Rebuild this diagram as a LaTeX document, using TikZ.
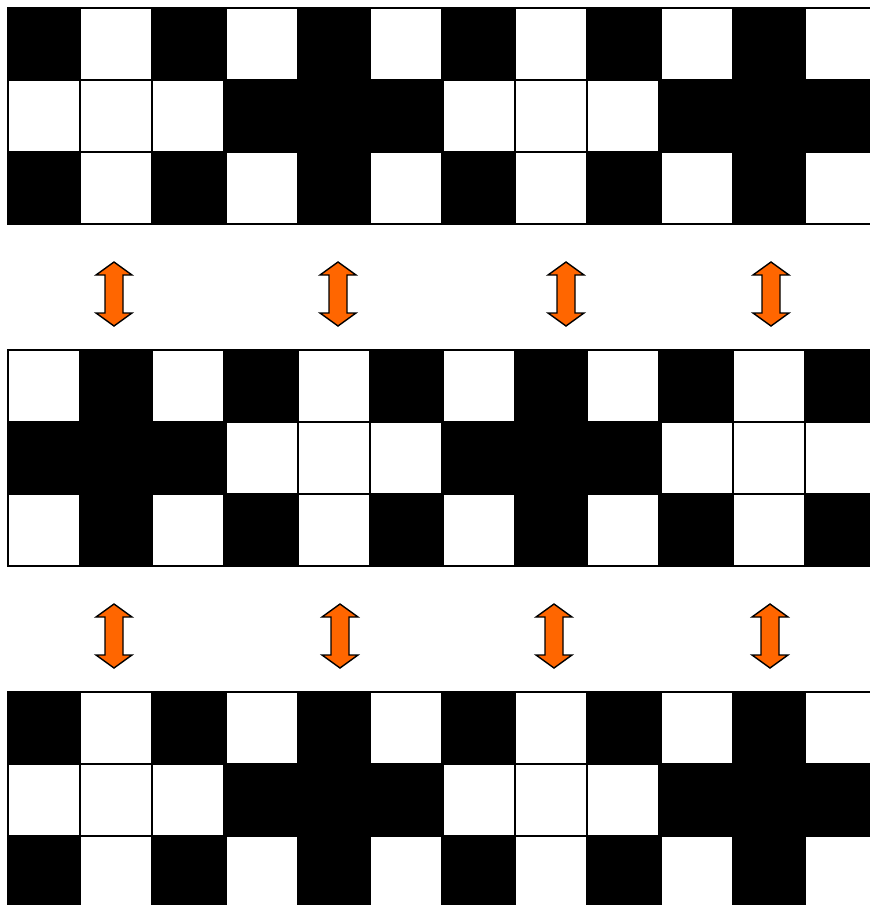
\documentclass[tikz,border=0pt]{standalone}
\usepackage{tikz}
\definecolor{arroworange}{HTML}{FF6600}
\begin{document}
\begin{tikzpicture}[x=1pt,y=-1pt,
  cellstyle/.style={draw=black,line width=1.6pt},
  arrowstyle/.style={fill=arroworange,draw=black,line width=1.4pt,line join=miter}]
\useasboundingbox (0,0) rectangle (870,905);
\clip (0,0) rectangle (870,905);
\fill[white] (0,0) rectangle (870,905);
\foreach \r/\yo in {0/8,1/350,2/692} {
  \foreach \g/\xo in {0/8,1/226,2/443,3/661} {
    \pgfmathtruncatemacro\t{mod(\r+\g,2)}
    \foreach \i in {0,1,2} {
      \foreach \j in {0,1,2} {
        \pgfmathtruncatemacro\b{abs(\t-mod(\i+1,2)*mod(\j+1,2))}
        \ifnum\b=1 \def\fc{black}\else\def\fc{white}\fi
        \draw[cellstyle,fill=\fc] (\xo+72*\i,\yo+72*\j) rectangle ++(72,72);
      }
    }
  }
}
\foreach \cx/\cy in {114/294,338/294,566/294,771/294,114/636,340/636,554/636,770/636} {
  \draw[arrowstyle] (\cx,\cy-32) -- (\cx+18,\cy-19) -- (\cx+9,\cy-19) -- (\cx+9,\cy+19)
    -- (\cx+18,\cy+19) -- (\cx,\cy+32) -- (\cx-18,\cy+19) -- (\cx-9,\cy+19)
    -- (\cx-9,\cy-19) -- (\cx-18,\cy-19) -- cycle;
}
\end{tikzpicture}
\end{document}
